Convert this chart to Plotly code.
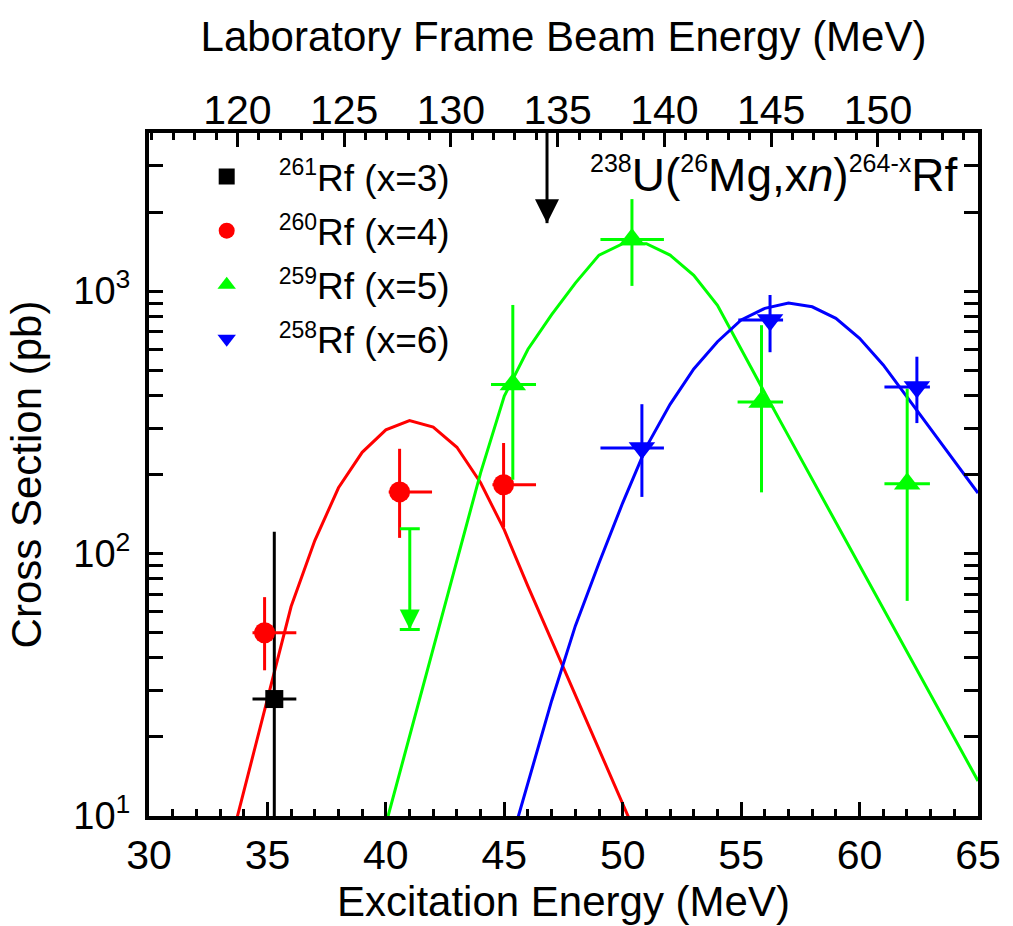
import numpy as np
import plotly.graph_objects as go

# ---------------- data ----------------
# fitted excitation functions (excitation energy in MeV, cross section in pb)
fit_ex_x3x4 = [33, 34, 35, 36, 37, 38, 39, 40, 41, 42, 43, 44, 45, 46, 47, 48, 49, 50, 51]
fit_cs_x4 = [5.5, 12.4, 27.9, 62.8, 112, 178, 243, 296, 321, 303, 254, 186, 123, 75, 46.6, 28.9, 17.9, 11.1, 6.9]
fit_ex_x5 = list(range(39, 66))
fit_cs_x5 = [4.3, 9.25, 20, 43.3, 94, 203, 398, 600, 813, 1072, 1370, 1515, 1515, 1370, 1148,
             883, 605, 409, 280, 192, 131.5, 90, 61.7, 42.4, 29, 19.9, 13.6]
fit_ex_x6 = list(range(45, 66))
fit_cs_x6 = [6.5, 13.3, 27.5, 53, 92, 156, 255, 370, 505, 641, 776, 859, 900, 871, 787, 661,
             523, 395, 298, 225, 170]

# measured points
rf261_ex = [35.29]
rf261_cs = [27.9]
rf261_cs_hi = [121]
rf261_cs_lo = [1.0]
rf261_ex_lo = [34.37]
rf261_ex_hi = [36.22]

rf260_ex = [34.88, 40.58, 44.97]
rf260_cs = [49.9, 171.7, 182.8]
rf260_cs_hi = [68.2, 250.6, 263.6]
rf260_cs_lo = [35.9, 114.7, 125.9]
rf260_ex_lo = [34.37, 40.12, 44.50]
rf260_ex_hi = [36.22, 41.95, 46.34]

rf259_ex = [45.36, 50.39, 55.86, 62.01]
rf259_cs = [440, 1572, 377.6, 184.6]
rf259_cs_hi = [885, 2240, 741, 425]
rf259_cs_lo = [191, 1046, 171, 66]
rf259_ex_lo = [44.44, 49.06, 54.85, 61.05]
rf259_ex_hi = [46.34, 51.74, 56.77, 62.97]

# 259Rf upper limit
rf259_lim_ex = [41.01]
rf259_lim_cs = [124.2]
rf259_lim_arrow_tip = [51.4]

rf258_ex = [50.81, 56.22, 62.42]
rf258_cs = [252.5, 776, 430.5]
rf258_cs_hi = [370.6, 966, 562]
rf258_cs_lo = [164.3, 584.7, 314]
rf258_ex_lo = [49.06, 54.88, 61.05]
rf258_ex_hi = [51.74, 56.77, 62.97]

# beam-energy axis conversion: E_lab = (A_p + A_t)/A_t * (E* - Q)
A_p, A_t = 26, 238
Q_value = -74.45
ex_range = [30, 65]
cs_range = [10, 4000]
beam_arrow_lab = 134.5       # marked beam energy (lab, MeV)
beam_arrow_tip_cs = 1814

legend_names = ["261", "260", "259", "258"]
legend_x = ["3", "4", "5", "6"]

BLACK, RED, GREEN, BLUE = "#000000", "#ff0000", "#00ff00", "#0000ff"
FONT = "Liberation Sans, Arial, Helvetica, sans-serif"


def lab(e):
    return (A_p + A_t) / A_t * (e - Q_value)


def errs(v, hi, lo):
    v = np.array(v, float)
    return dict(type="data", symmetric=False, array=(np.array(hi) - v).tolist(),
                arrayminus=(v - np.array(lo)).tolist())


fig = go.Figure()

# fit curves
for ex, cs, col in [(fit_ex_x3x4, fit_cs_x4, RED), (fit_ex_x5, fit_cs_x5, GREEN), (fit_ex_x6, fit_cs_x6, BLUE)]:
    fig.add_trace(go.Scatter(x=ex, y=cs, mode="lines", line=dict(color=col, width=3),
                             showlegend=False, hoverinfo="skip"))

# data points
sets = [
    (rf261_ex, rf261_cs, rf261_cs_hi, rf261_cs_lo, rf261_ex_lo, rf261_ex_hi, BLACK, "square", 18),
    (rf260_ex, rf260_cs, rf260_cs_hi, rf260_cs_lo, rf260_ex_lo, rf260_ex_hi, RED, "circle", 21),
    (rf259_ex, rf259_cs, rf259_cs_hi, rf259_cs_lo, rf259_ex_lo, rf259_ex_hi, GREEN, "triangle-up", 23),
    (rf258_ex, rf258_cs, rf258_cs_hi, rf258_cs_lo, rf258_ex_lo, rf258_ex_hi, BLUE, "triangle-down", 23),
]
for ex, cs, hi, lo, exlo, exhi, col, sym, sz in sets:
    ey = errs(cs, hi, lo)
    ey.update(color=col, thickness=3, width=0)
    ex_ = errs(ex, exhi, exlo)
    ex_.update(color=col, thickness=3, width=0)
    fig.add_trace(go.Scatter(x=ex, y=cs, mode="markers", error_y=ey, error_x=ex_,
                             marker=dict(symbol=sym, size=sz, color=col, line=dict(width=0)),
                             showlegend=False))

# upper limit for 259Rf
fig.add_trace(go.Scatter(
    x=rf259_lim_ex, y=rf259_lim_arrow_tip, mode="markers",
    marker=dict(symbol="arrow-down", size=20, color=GREEN, line=dict(width=0)),
    error_y=dict(type="data", symmetric=False,
                 array=[rf259_lim_cs[0] - rf259_lim_arrow_tip[0]], arrayminus=[0],
                 color=GREEN, thickness=3, width=10),
    showlegend=False))

# legend entries
for name, xn, col, sym, sz in zip(legend_names, legend_x, [BLACK, RED, GREEN, BLUE],
                                  ["square", "circle", "triangle-up", "triangle-down"], [18, 21, 22, 22]):
    fig.add_trace(go.Scatter(
        x=[None], y=[None], mode="markers",
        marker=dict(symbol=sym, size=sz, color=col, line=dict(width=0)),
        name=f"<sup><span style='font-size:23px'>{name}</span></sup>Rf (x={xn})",
        legendgroup=name))

# beam energy arrow on the lab axis
fig.add_trace(go.Scatter(
    x=[beam_arrow_lab, beam_arrow_lab], y=[cs_range[1], beam_arrow_tip_cs],
    xaxis="x2", yaxis="y", mode="lines+markers",
    line=dict(color=BLACK, width=3),
    marker=dict(symbol=["circle", "arrow-down"], size=[0, 24], color=BLACK, opacity=1,
                line=dict(width=0)),
    showlegend=False, cliponaxis=False))

axis_common = dict(showgrid=False, zeroline=False, ticks="inside", ticklen=14, tickwidth=3,
                   tickcolor=BLACK, linecolor=BLACK, linewidth=4)

fig.update_layout(
    width=1013, height=926,
    margin=dict(l=149, r=28, t=133, b=109),
    paper_bgcolor="white", plot_bgcolor="white",
    font=dict(family=FONT, color=BLACK),
    xaxis=dict(range=ex_range, tick0=30, dtick=5, showline=True, mirror=True,
               tickfont=dict(size=41),
               title=dict(text="Excitation Energy (MeV)", font=dict(size=42), standoff=6),
               minor=dict(dtick=1, ticks="inside", ticklen=7, tickwidth=3, tickcolor=BLACK),
               **axis_common),
    xaxis2=dict(range=[lab(ex_range[0]), lab(ex_range[1])], overlaying="x", side="top",
                tick0=120, dtick=5, showline=False, anchor="y",
                tickfont=dict(size=41),
                title=dict(text="Laboratory Frame Beam Energy (MeV)", font=dict(size=42), standoff=22),
                minor=dict(dtick=1, ticks="inside", ticklen=7, tickwidth=3, tickcolor=BLACK),
                showgrid=False, zeroline=False, ticks="inside", ticklen=14, tickwidth=3,
                tickcolor=BLACK),
    yaxis=dict(type="log", range=[np.log10(cs_range[0]), np.log10(cs_range[1])],
               tickvals=[10, 100, 1000],
               ticktext=["10<sup>1</sup>", "10<sup>2</sup>", "10<sup>3</sup>"],
               tickfont=dict(size=38), showline=True, mirror="allticks", ticklabelstandoff=7,
               title=dict(text="Cross Section (pb)", font=dict(size=42), standoff=20),
               minor=dict(ticks="inside", ticklen=7, tickwidth=3, tickcolor=BLACK, dtick="D1"),
               **axis_common),
    legend=dict(x=0.031, y=0.981, xanchor="left", yanchor="top", bgcolor="rgba(0,0,0,0)",
                font=dict(size=37), tracegroupgap=3, itemwidth=94),
    annotations=[dict(
        text="<sup><span style='font-size:25px'>238</span></sup>U(<sup><span style='font-size:25px'>26</span></sup>Mg,x<i>n</i>)"
             "<sup><span style='font-size:25px'>264-x</span></sup>Rf",
        xref="paper", yref="paper", x=0.977, y=0.938, xanchor="right", yanchor="middle",
        showarrow=False, font=dict(size=46))],
)

fig.write_html("out.html", config={"displayModeBar": False},
               post_script="document.body.style.margin='0';")
